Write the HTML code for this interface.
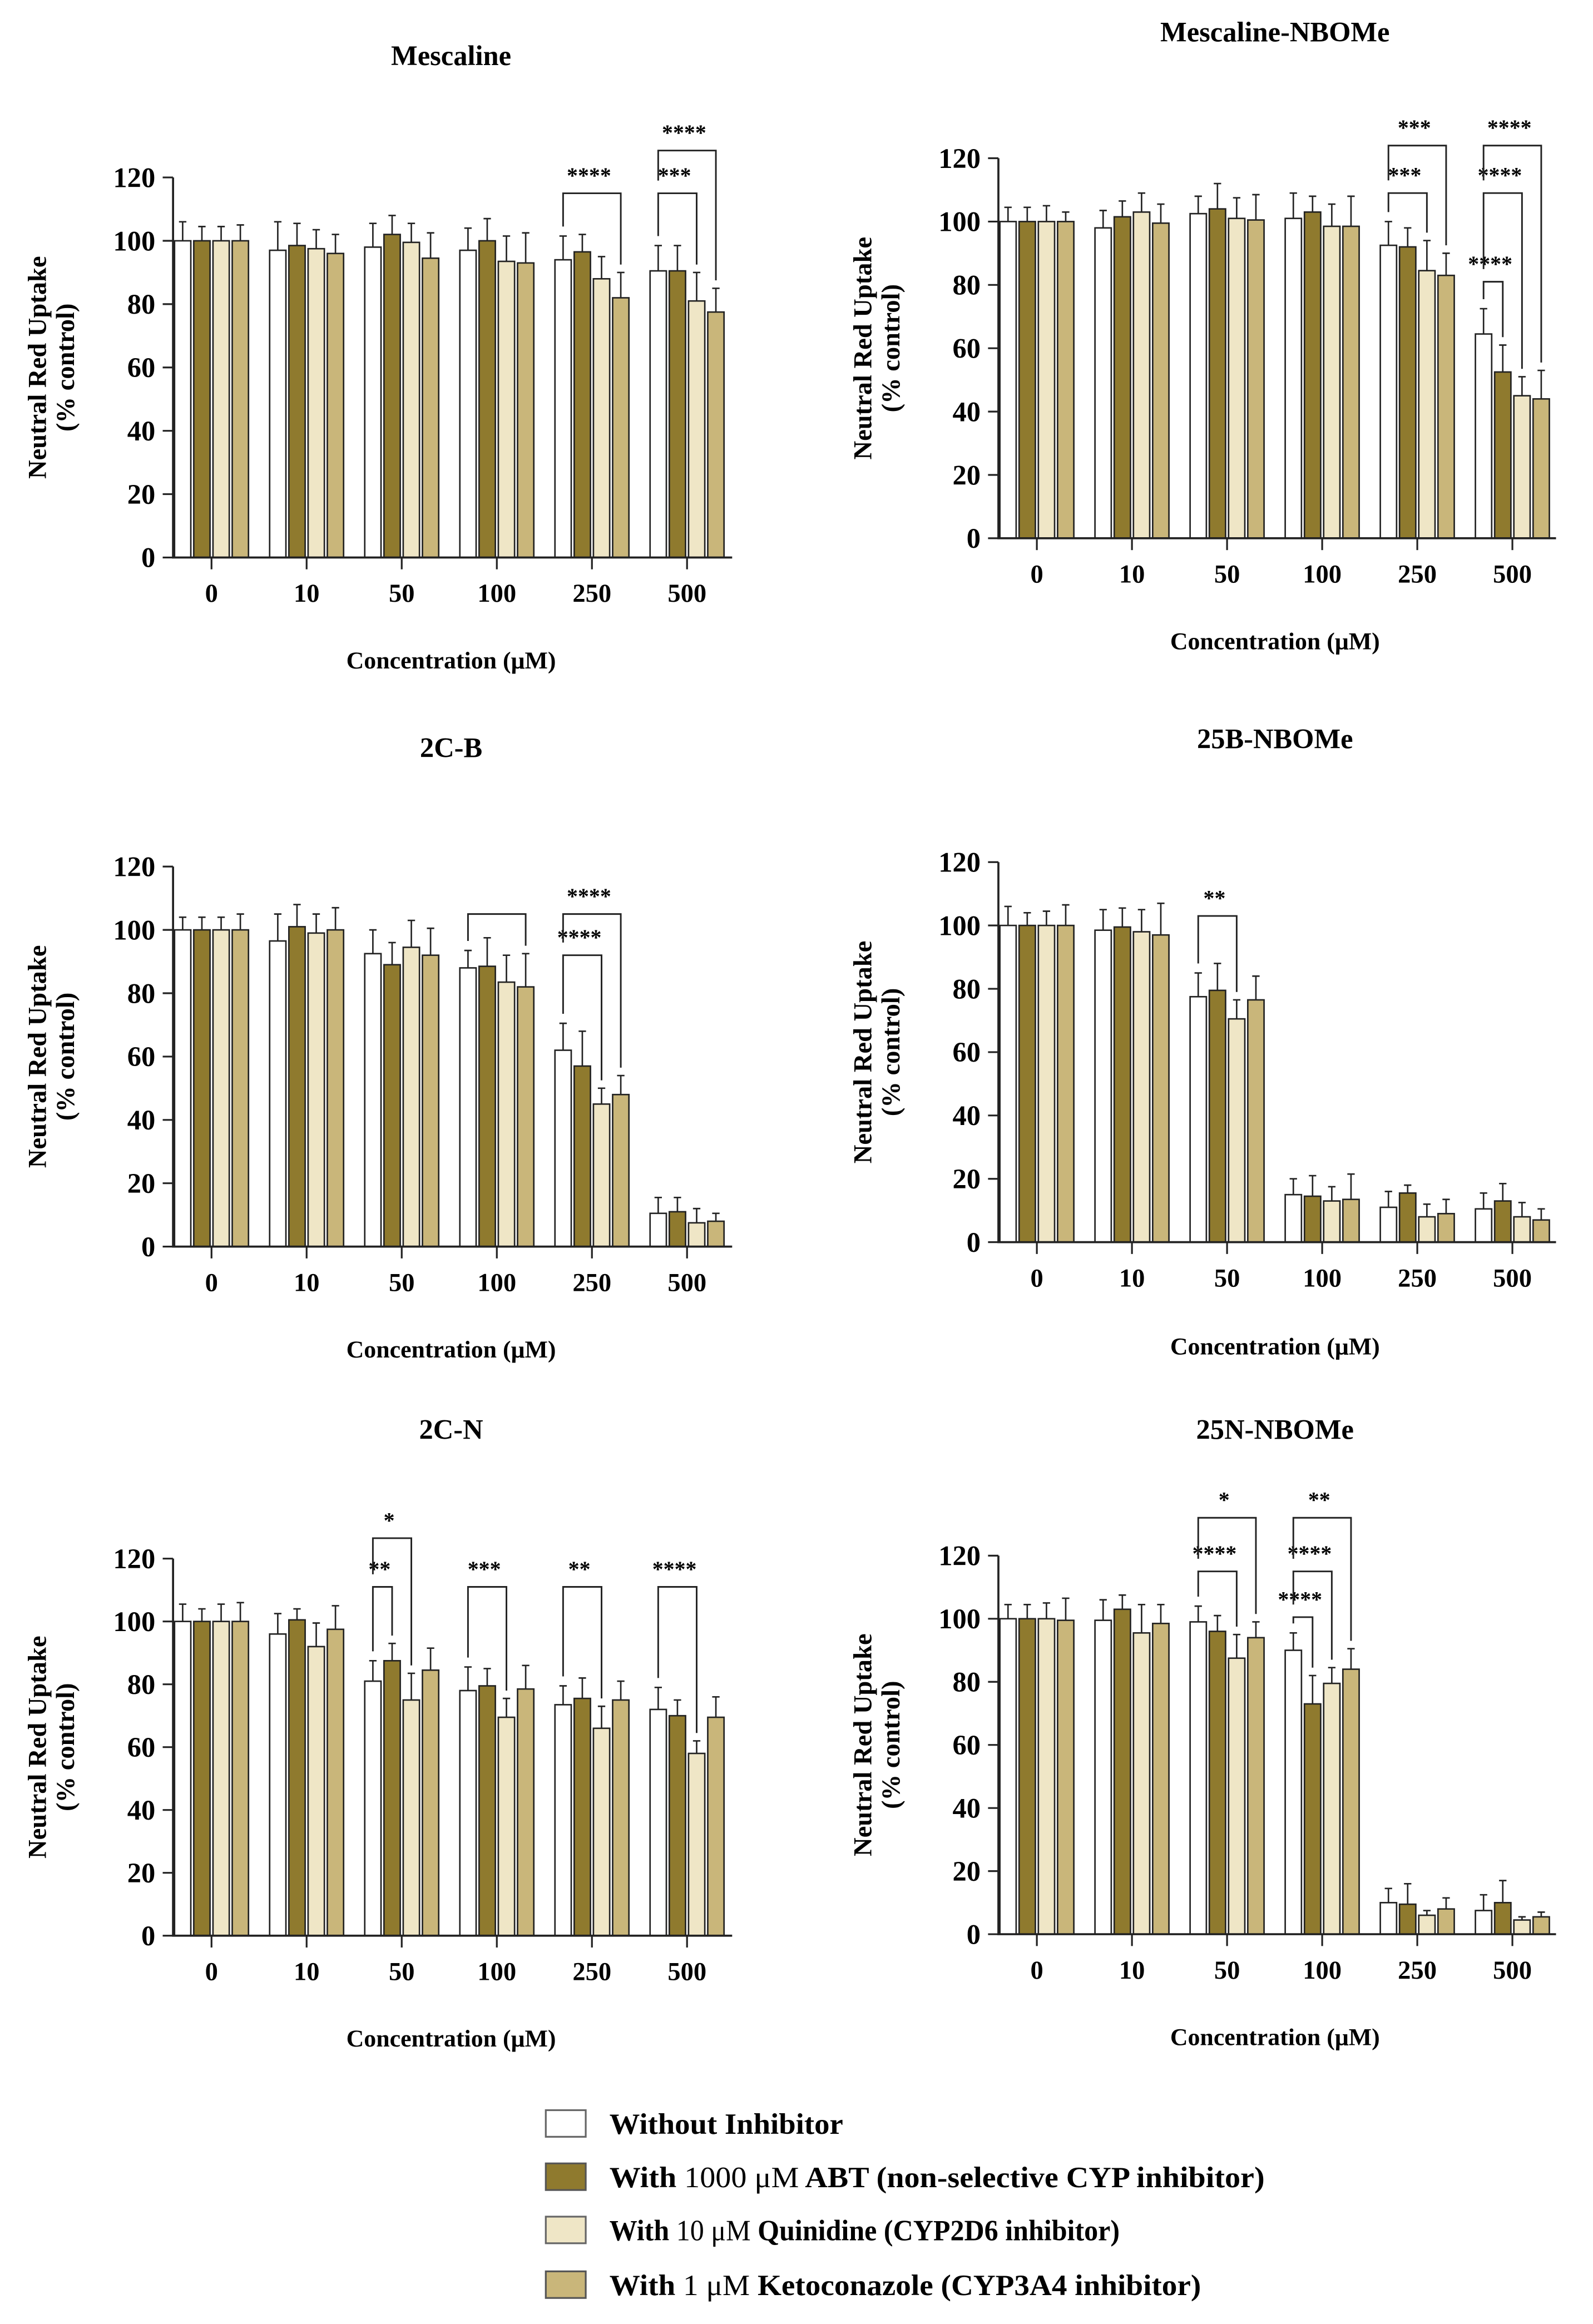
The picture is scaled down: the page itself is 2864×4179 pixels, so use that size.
<!DOCTYPE html>
<html><head><meta charset="utf-8"><style>
html,body{margin:0;padding:0;background:#fff;}
svg{display:block;font-family:"Liberation Serif",serif;font-weight:bold;}
</style></head><body>
<svg id="fig" width="2864" height="4179" viewBox="0 0 1077 1571.6" preserveAspectRatio="none" xmlns="http://www.w3.org/2000/svg">
<g id="legend">
 <g><rect x="369" y="1427" width="27" height="18" fill="#ffffff" stroke="#666" stroke-width="1.2"/><text x="412" y="1443" font-size="20" textLength="158" lengthAdjust="spacingAndGlyphs">Without Inhibitor</text></g>
 <g><rect x="369" y="1463" width="27" height="18" fill="#8f7a2e" stroke="#555" stroke-width="1.2"/><text x="412" y="1479" font-size="20" textLength="443" lengthAdjust="spacingAndGlyphs">With <tspan font-weight="normal">1000 μM</tspan> ABT (non-selective  CYP inhibitor)</text></g>
 <g><rect x="369" y="1499" width="27" height="18" fill="#efe6c6" stroke="#666" stroke-width="1.2"/><text x="412" y="1515" font-size="20" textLength="345" lengthAdjust="spacingAndGlyphs">With <tspan font-weight="normal">10 μM</tspan> Quinidine (CYP2D6 inhibitor)</text></g>
 <g><rect x="369" y="1536" width="27" height="18" fill="#c9b67a" stroke="#555" stroke-width="1.2"/><text x="412" y="1552" font-size="20" textLength="400" lengthAdjust="spacingAndGlyphs">With <tspan font-weight="normal">1 μM</tspan> Ketoconazole (CYP3A4 inhibitor)</text></g>
</g>
</svg>
<script>
const categories = ["0","10","50","100","250","500"];
const yTicks = [0,20,40,60,80,100,120];
const seriesColors = ["#ffffff","#8f7a2e","#efe6c6","#c9b67a"];

// Mescaline
const mesc_W=[100,97,98,97,94,90.5], mesc_A=[100,98.5,102,100,96.5,90.5], mesc_Q=[100,97.5,99.5,93.5,88,81], mesc_K=[100,96,94.5,93,82,77.5];
const mesc_eW=[6,9,7.5,7,7.5,8], mesc_eA=[4.5,7,6,7,5.5,8], mesc_eQ=[4.5,6,6,8,7,9], mesc_eK=[5,6,8,9.5,8,7.5];
const mesc_sig=[[4,3,115,"****"],[5,2,115,"***"],[5,3,128.5,"****"]];
// Mescaline-NBOMe
const mn_W=[100,98,102.5,101,92.5,64.5], mn_A=[100,101.5,104,103,92,52.5], mn_Q=[100,103,101,98.5,84.5,45], mn_K=[100,99.5,100.5,98.5,83,44];
const mn_eW=[4.5,5.5,5.5,8,7.5,8], mn_eA=[4.5,5,8,5,6,8.5], mn_eQ=[5,6,6.5,7,9.5,6], mn_eK=[3,6,8,9.5,7,9];
const mn_sig=[[4,2,109,"***"],[4,3,124,"***"],[5,1,81,"****"],[5,2,109,"****"],[5,3,124,"****"]];
// 2C-B
const cb_W=[100,96.5,92.5,88,62,10.5], cb_A=[100,101,89,88.5,57,11], cb_Q=[100,99,94.5,83.5,45,7.5], cb_K=[100,100,92,82,48,8];
const cb_eW=[4,8.5,7.5,5.5,8.5,5], cb_eA=[4,7,7,9,11,4.5], cb_eQ=[4,6,8.5,8.5,5,4.5], cb_eK=[5,7,8.5,10.5,6,2.5];
const cb_sig=[[3,3,105,""],[4,2,92,"****"],[4,3,105,"****"]];
// 25B-NBOMe
const bn_W=[100,98.5,77.5,15,11,10.5], bn_A=[100,99.5,79.5,14.5,15.5,13], bn_Q=[100,98,70.5,13,8,8], bn_K=[100,97,76.5,13.5,9,7];
const bn_eW=[6,6.5,7.5,5,5,5], bn_eA=[4,6,8.5,6.5,2.5,5.5], bn_eQ=[4.5,7,6,4.5,4,4.5], bn_eK=[6.5,10,7.5,8,4.5,3.5];
const bn_sig=[[2,2,103,"**"]];
// 2C-N
const cn_W=[100,96,81,78,73.5,72], cn_A=[100,100.5,87.5,79.5,75.5,70], cn_Q=[100,92,75,69.5,66,58], cn_K=[100,97.5,84.5,78.5,75,69.5];
const cn_eW=[5.5,6.5,6.5,7.5,6,7], cn_eA=[4,3.5,5.5,5.5,6.5,5], cn_eQ=[5.5,7.5,8.5,6,7,4], cn_eK=[6,7.5,7,7.5,6,6.5];
const cn_sig=[[2,1,111,"**"],[2,2,126.5,"*"],[3,2,111,"***"],[4,2,111,"**"],[5,2,111,"****"]];
// 25N-NBOMe
const nn_W=[100,99.5,99,90,10,7.5], nn_A=[100,103,96,73,9.5,10], nn_Q=[100,95.5,87.5,79.5,6,4.5], nn_K=[99.5,98.5,94,84,8,5.5];
const nn_eW=[4.5,6.5,5,5.5,4.5,5], nn_eA=[4.5,4.5,5,9,6.5,7], nn_eQ=[5,9,7.5,5,1.5,1], nn_eK=[7,6,5,6.5,3.5,1.5];
const nn_sig=[[2,2,115,"****"],[2,3,132,"*"],[3,1,100.5,"****"],[3,2,115,"****"],[3,3,132,"**"]];

const panels=[
 {name:"mescaline",title:"Mescaline",ax:117,y0:377,y120:120,tx:305,ty:38,xl:447,xend:495,vals:[mesc_W,mesc_A,mesc_Q,mesc_K],errs:[mesc_eW,mesc_eA,mesc_eQ,mesc_eK],sig:mesc_sig},
 {name:"mescaline-nbome",title:"Mescaline-NBOMe",ax:675,y0:364,y120:107,tx:862,ty:22,xl:434,xend:1052,vals:[mn_W,mn_A,mn_Q,mn_K],errs:[mn_eW,mn_eA,mn_eQ,mn_eK],sig:mn_sig},
 {name:"2c-b",title:"2C-B",ax:117,y0:843,y120:586,tx:305,ty:506,xl:913,xend:495,vals:[cb_W,cb_A,cb_Q,cb_K],errs:[cb_eW,cb_eA,cb_eQ,cb_eK],sig:cb_sig},
 {name:"25b-nbome",title:"25B-NBOMe",ax:675,y0:840,y120:583,tx:862,ty:500,xl:911,xend:1052,vals:[bn_W,bn_A,bn_Q,bn_K],errs:[bn_eW,bn_eA,bn_eQ,bn_eK],sig:bn_sig},
 {name:"2c-n",title:"2C-N",ax:117,y0:1309,y120:1054,tx:305,ty:967,xl:1379,xend:495,vals:[cn_W,cn_A,cn_Q,cn_K],errs:[cn_eW,cn_eA,cn_eQ,cn_eK],sig:cn_sig},
 {name:"25n-nbome",title:"25N-NBOMe",ax:675,y0:1308,y120:1052,tx:862,ty:967,xl:1378,xend:1052,vals:[nn_W,nn_A,nn_Q,nn_K],errs:[nn_eW,nn_eA,nn_eQ,nn_eK],sig:nn_sig}
];
const NS="http://www.w3.org/2000/svg";
const svg=document.getElementById("fig");
function mk(tag,attrs,parent){const e=document.createElementNS(NS,tag);for(const k in attrs)e.setAttribute(k,attrs[k]);parent.appendChild(e);return e;}
const seriesNames=["without-inhibitor","abt","quinidine","ketoconazole"];
panels.forEach(p=>{
 const g=mk("g",{},svg);
 
 
 const y=v=>p.y0-(p.y0-p.y120)*v/120;
 const cx=i=>p.ax+26+64.3*i;
 const t=mk("text",{x:p.tx,y:p.ty+6,"font-size":19,"text-anchor":"middle"},g); t.textContent=p.title;
 
 
 const mid=(p.y0+p.y120)/2;
 const yl=mk("text",{x:0,y:0,"font-size":17.5,"text-anchor":"middle",transform:`translate(${p.ax-86},${mid}) rotate(-90)`},g); yl.textContent="Neutral Red Uptake";
 
 
 const yl2=mk("text",{x:0,y:0,"font-size":17.5,"text-anchor":"middle",transform:`translate(${p.ax-67},${mid}) rotate(-90)`},g); yl2.textContent="(% control)";
 
 
 const xl=mk("text",{x:p.tx,y:p.xl+5,"font-size":16.5,"text-anchor":"middle"},g); xl.textContent="Concentration (μM)";
 
 
 p.vals.forEach((arr,s)=>{arr.forEach((v,i)=>{
  const left=cx(i)-25+13*s, top=y(v), et=y(v+p.errs[s][i]);
  const r=mk("rect",{x:left,y:top,width:11,height:p.y0-top,fill:seriesColors[s],stroke:"#222","stroke-width":1},g);
  
  
  const e=mk("path",{d:`M${left+5.5},${top}V${et}M${left+3},${et}H${left+8}`,stroke:"#222","stroke-width":1,fill:"none"},g);
  
  
 });});
 const a=mk("path",{d:`M${p.ax},${p.y120}V${p.y0}H${p.xend}`,stroke:"#222","stroke-width":1.4,fill:"none"},g);
 
 
 yTicks.forEach(v=>{
  mk("path",{d:`M${p.ax-7},${y(v)}H${p.ax}`,stroke:"#222","stroke-width":1.2},g);
  const tl=mk("text",{x:p.ax-12,y:y(v)+6.5,"font-size":19,"text-anchor":"end"},g); tl.textContent=v;
  
  
 });
 categories.forEach((c,i)=>{
  mk("path",{d:`M${cx(i)},${p.y0}V${p.y0+8}`,stroke:"#222","stroke-width":1.2},g);
  const tl=mk("text",{x:cx(i),y:p.y0+30,"font-size":17.5,"text-anchor":"middle"},g); tl.textContent=c;
  
  
 });
 p.sig.forEach(sg=>{
  const [gi,to,by,lab]=sg;
  const x1=cx(gi)-19.5, x2=cx(gi)-25+13*to+5.5;
  const lowers=p.sig.filter(o=>o[0]===gi&&o[2]<by);
  let lb=p.vals[0][gi]+p.errs[0][gi]+3;
  if(lowers.length) lb=Math.max(...lowers.map(o=>o[2]))+4;
  const rb=p.vals[to][gi]+p.errs[to][gi]+2.5;
  const b=mk("path",{d:`M${x1},${y(lb)}V${y(by)}H${x2}V${y(rb)}`,stroke:"#222","stroke-width":1.1,fill:"none"},g);
  
  
  if(lab){const st=mk("text",{x:(x1+x2)/2-2,y:y(by)-7,"font-size":15,"text-anchor":"middle"},g); st.textContent=lab;
  
  }
 });
});
</script>
</body></html>
